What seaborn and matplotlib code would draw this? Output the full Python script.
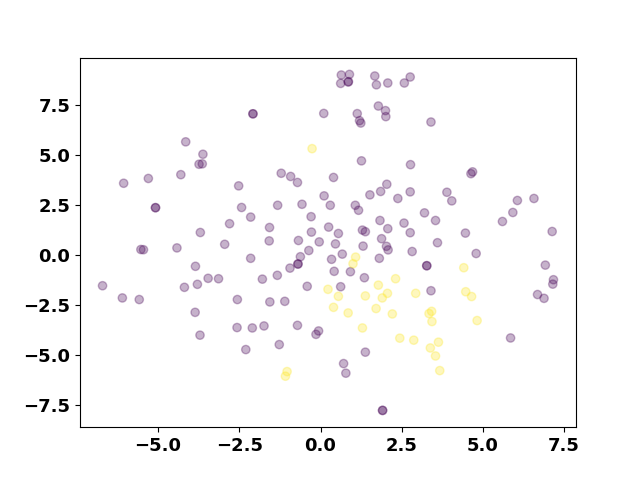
import pandas as pd
import numpy as np
import matplotlib
matplotlib.use('Agg')
import matplotlib.pyplot as plt
import seaborn as sns

# ------------------------------------------------------------------
# Data
# ------------------------------------------------------------------

# Cluster 0 (dark purple)
purple_x = [-2.08, -2.08, -4.15, -3.62, -3.74, -3.64, -6.06, -5.30, -4.30, -2.52,
            -5.08, -5.08, -2.43, -2.15, -2.80, -3.70, -2.95, -4.42, -5.53, -5.45,
            -2.15, -3.85, -6.71, -6.10, -5.58, -4.19, -3.79, -3.46, -3.14, -2.56,
            -3.86, -3.71, -2.57, -2.10, -2.30, 0.64, 0.89, 0.62, 0.85, 0.86,
            1.67, 1.72, 2.07, 2.58, 2.76, 0.10, 1.13, 1.20, 1.24, 1.78,
            2.00, 2.01, 1.26, 2.77, -1.21, -0.92, -0.71, 0.40, 2.04, 1.85,
            1.52, 2.38, 2.76, 0.11, 0.30, -0.57, -1.32, 1.07, 1.17, -0.29,
            1.83, 2.57, -1.57, 0.25, 2.07, 1.29, 1.38, -0.28, 0.55, 2.76,
            1.88, -1.58, -0.68, -0.04, 0.46, 1.31, 2.03, 2.08, -0.36, 2.82,
            -0.62, -0.70, -0.69, -0.94, 0.34, 0.67, 1.81, 0.42, 0.92, -1.79,
            -1.33, 1.35, -0.41, 0.62, -1.56, -1.10, -1.74, -0.71, -0.14, -0.06,
            -1.27, 1.38, 0.71, 0.78, 1.91, 1.91, 3.40, 4.63, 4.68, 3.89,
            4.04, 3.20, 3.54, 4.46, 3.60, 6.06, 6.57, 5.92, 5.60, 7.13,
            4.79, 3.27, 3.27, 6.92, 7.17, 7.15, 6.68, 6.88, 3.40, 5.85]
purple_y = [7.04, 7.04, 5.64, 5.02, 4.52, 4.54, 3.57, 3.81, 4.00, 3.44,
            2.35, 2.35, 2.36, 1.88, 1.55, 1.11, 0.52, 0.34, 0.26, 0.25,
            -0.18, -0.58, -1.55, -2.16, -2.24, -1.63, -1.48, -1.18, -1.20, -2.24,
            -2.88, -4.02, -3.64, -3.66, -4.74, 8.98, 9.01, 8.56, 8.63, 8.65,
            8.93, 8.49, 8.58, 8.58, 8.88, 7.06, 7.05, 6.70, 6.58, 7.43,
            7.20, 6.90, 4.69, 4.50, 4.07, 3.91, 3.61, 3.86, 3.52, 3.16,
            2.99, 2.81, 3.14, 2.94, 2.47, 2.52, 2.47, 2.47, 2.22, 1.90,
            1.71, 1.58, 1.36, 1.38, 1.30, 1.23, 1.15, 1.13, 1.06, 1.10,
            0.80, 0.69, 0.71, 0.64, 0.54, 0.43, 0.42, 0.24, 0.21, 0.16,
            -0.10, -0.47, -0.46, -0.67, -0.23, 0.03, -0.18, -0.83, -0.85, -1.22,
            -1.03, -1.15, -1.58, -1.60, -2.36, -2.33, -3.56, -3.53, -3.98, -3.81,
            -4.49, -4.87, -5.44, -5.92, -7.78, -7.78, 6.63, 4.05, 4.14, 3.12,
            2.69, 2.09, 1.71, 1.08, 0.60, 2.71, 2.81, 2.11, 1.66, 1.16,
            0.06, -0.55, -0.55, -0.52, -1.25, -1.47, -1.99, -2.18, -1.80, -4.16]

# Cluster 1 (yellow)
yellow_x = [-0.26, 1.08, 1.00, 0.23, 0.55, 1.78, 2.31, 1.38, 2.06, 1.90,
            2.93, 0.40, 0.85, 1.71, 2.21, 1.29, 2.44, 2.87, -1.03, -1.08,
            4.41, 4.47, 4.65, 3.34, 3.42, 3.43, 4.82, 3.63, 3.38, 3.54, 3.67]
yellow_y = [5.30, -0.12, -0.45, -1.73, -2.08, -1.52, -1.20, -2.06, -1.93, -2.16,
            -1.93, -2.63, -2.91, -2.69, -2.96, -3.66, -4.17, -4.27, -5.84, -6.07,
            -0.65, -1.85, -2.09, -2.94, -2.83, -3.34, -3.29, -4.37, -4.66, -5.06, -5.79]

cluster_colors = {0: '#440154', 1: '#fde725'}

df_points = pd.DataFrame({
    'x': purple_x + yellow_x,
    'y': purple_y + yellow_y,
    'cluster': [0] * len(purple_x) + [1] * len(yellow_x),
})

# ------------------------------------------------------------------
# Plot
# ------------------------------------------------------------------

fig, ax = plt.subplots(figsize=(6.4, 4.8), dpi=100)

sns.scatterplot(data=df_points, x='x', y='y', hue='cluster', palette=cluster_colors,
                s=36, alpha=0.3, edgecolor='face', linewidth=1, legend=False, ax=ax)

ax.set_xlabel('')
ax.set_ylabel('')
ax.set_xticks([-5.0, -2.5, 0.0, 2.5, 5.0, 7.5])
ax.set_yticks([-7.5, -5.0, -2.5, 0.0, 2.5, 5.0, 7.5])
ax.tick_params(labelsize=13)
for label in ax.get_xticklabels() + ax.get_yticklabels():
    label.set_fontweight('bold')

plt.savefig('out.png', dpi=100)
